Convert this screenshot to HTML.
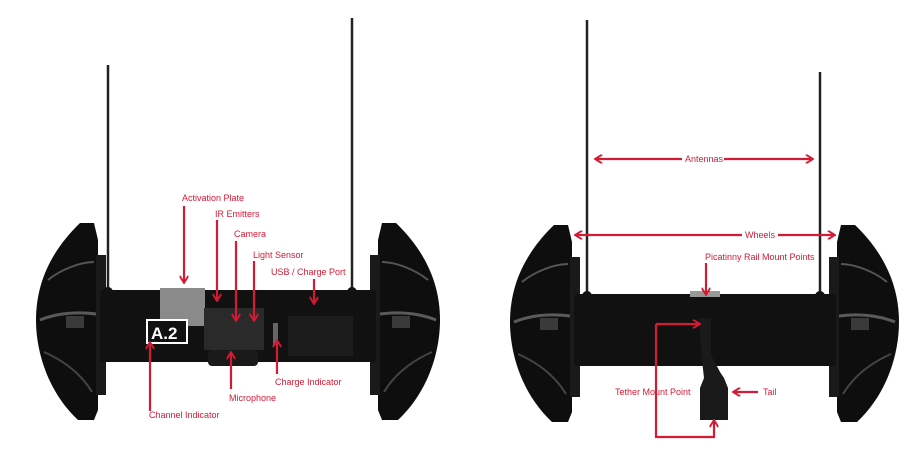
<!DOCTYPE html>
<html><head><meta charset="utf-8"><style>
html,body{margin:0;padding:0;background:#fff;}
svg{display:block}
text{font-family:"Liberation Sans",sans-serif;font-size:9px;fill:#d51a35;}
</style></head><body>
<svg width="915" height="460" viewBox="0 0 915 460" xmlns="http://www.w3.org/2000/svg">
<defs>
<marker id="ah" viewBox="0 0 10 10" refX="8" refY="5" markerWidth="4" markerHeight="4" orient="auto-start-reverse">
<path d="M1,0 L9,5 L1,10" fill="none" stroke="#d51a35" stroke-width="2.2"/>
</marker>
<g id="wheelL">
<path d="M80,223 L94,223 L98,240 L98,410 L94,420 L78,420 C48,392 36,352 36,320 C36,282 52,250 80,223Z" fill="#0e0e0e"/>
<rect x="96" y="255" width="10" height="140" fill="#1a1a1a"/>
<path d="M48,280 C60,270 80,262 94,262" stroke="#555" stroke-width="2" fill="none"/>
<path d="M40,320 C60,312 80,312 96,314" stroke="#5a5a5a" stroke-width="3" fill="none"/>
<path d="M44,352 C62,360 80,372 92,392" stroke="#444" stroke-width="2" fill="none"/>
<rect x="66" y="316" width="18" height="12" fill="#3a3a3a"/>
</g>
</defs>
<g fill="#111">
<!-- LEFT ROBOT -->
<line x1="108" y1="65" x2="108" y2="292" stroke="#222" stroke-width="2.5"/>
<line x1="352" y1="18" x2="352" y2="292" stroke="#222" stroke-width="2.5"/>
<use href="#wheelL"/>
<use href="#wheelL" transform="translate(476,0) scale(-1,1)"/>
<rect x="100" y="290" width="276" height="72" rx="3"/>
<rect x="160" y="288" width="45" height="38" fill="#8a8a8a"/>
<rect x="204" y="308" width="60" height="42" fill="#2a2a2a"/>
<rect x="288" y="316" width="65" height="40" fill="#1c1c1c"/>
<rect x="208" y="350" width="50" height="16" rx="4" fill="#1a1a1a"/>
<rect x="146" y="319" width="42" height="25" fill="#fff"/>
<rect x="148" y="321" width="38" height="21" fill="#111"/>
<text x="151" y="339" style="font-size:17px;font-weight:bold;fill:#fff">A.2</text>
<rect x="273" y="323" width="5" height="22" fill="#666"/>
<circle cx="108" cy="292" r="5"/><circle cx="352" cy="292" r="5"/>
<!-- RIGHT ROBOT -->
<line x1="587" y1="20" x2="587" y2="296" stroke="#222" stroke-width="2.5"/>
<line x1="820" y1="72" x2="820" y2="296" stroke="#222" stroke-width="2.5"/>
<use href="#wheelL" transform="translate(474,2)"/>
<use href="#wheelL" transform="translate(935,2) scale(-1,1)"/>
<rect x="574" y="294" width="262" height="72" rx="3"/>
<rect x="690" y="291" width="30" height="6" fill="#999"/>
<path d="M699,318 L711,318 L711,355 L720,372 L724,378 L728,388 L728,420 L700,420 L700,388 L704,378 L702,360Z" fill="#1a1a1a"/>
<circle cx="587" cy="296" r="5"/><circle cx="820" cy="296" r="5"/>
</g>
<g stroke="#d51a35" stroke-width="2.2" fill="none">
<line x1="184" y1="206" x2="184" y2="282" marker-end="url(#ah)"/>
<line x1="217" y1="220" x2="217" y2="300" marker-end="url(#ah)"/>
<line x1="236" y1="241" x2="236" y2="320" marker-end="url(#ah)"/>
<line x1="254" y1="261" x2="254" y2="320" marker-end="url(#ah)"/>
<line x1="314" y1="279" x2="314" y2="303" marker-end="url(#ah)"/>
<line x1="277" y1="374" x2="277" y2="341" marker-end="url(#ah)"/>
<line x1="231" y1="389" x2="231" y2="353" marker-end="url(#ah)"/>
<line x1="150" y1="411" x2="150" y2="343" marker-end="url(#ah)"/>
<line x1="596" y1="159" x2="682" y2="159" marker-start="url(#ah)"/>
<line x1="724" y1="159" x2="812" y2="159" marker-end="url(#ah)"/>
<line x1="576" y1="235" x2="742" y2="235" marker-start="url(#ah)"/>
<line x1="778" y1="235" x2="834" y2="235" marker-end="url(#ah)"/>
<line x1="706" y1="263" x2="706" y2="294" marker-end="url(#ah)"/>
<polyline points="656,324 699,324" marker-end="url(#ah)"/>
<polyline points="656,324 656,437 714,437 714,421" marker-end="url(#ah)"/>
<line x1="758" y1="392" x2="734" y2="392" marker-end="url(#ah)"/>
</g>
<text x="182" y="201">Activation Plate</text>
<text x="215" y="217">IR Emitters</text>
<text x="234" y="237">Camera</text>
<text x="253" y="258">Light Sensor</text>
<text x="271" y="275">USB / Charge Port</text>
<text x="275" y="385">Charge Indicator</text>
<text x="229" y="401">Microphone</text>
<text x="149" y="418">Channel Indicator</text>
<text x="685" y="162">Antennas</text>
<text x="745" y="238">Wheels</text>
<text x="705" y="260">Picatinny Rail Mount Points</text>
<text x="615" y="395">Tether Mount Point</text>
<text x="763" y="395">Tail</text>
</svg>
</body></html>
